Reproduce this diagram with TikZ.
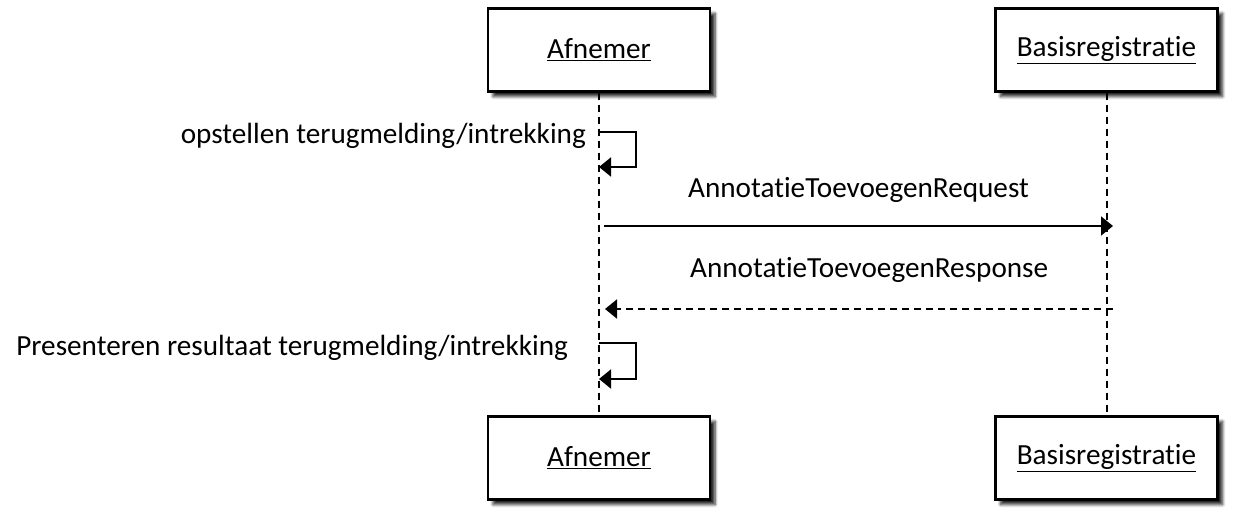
\documentclass[tikz,border=0pt]{standalone}
\usepackage{fontspec}
\setmainfont{Carlito}[Ligatures=NoCommon]
\usetikzlibrary{arrows.meta}
\usetikzlibrary{shadows.blur}
\usetikzlibrary{positioning}
\tikzset{obj/.style={draw, line width=2.4pt, fill=white, minimum width=222pt, minimum height=83pt, blur shadow={shadow xshift=5pt, shadow yshift=-5pt, shadow blur steps=6, shadow blur radius=3pt, shadow opacity=85}, font=\fontsize{29.2}{29.2}\selectfont}}
\tikzset{lbl/.style={inner sep=0pt, font=\fontsize{29.2}{29.2}\selectfont}}
\tikzset{life/.style={line width=2pt, dash pattern=on 7pt off 5pt}}
\tikzset{
msg/.style={line width=2pt, -{Triangle[length=12pt,width=19pt]}}, reply/.style={msg, dash pattern=on 7pt off 5pt}
}

\begin{document}
\begin{tikzpicture}[x=1pt,y=-1pt]
    \useasboundingbox (0,0) rectangle (1234,516);
    \node[obj] (afnTop) at (599,50) {\underline{Afnemer}};
    \node[obj] (basTop) at (1106.5,50) {\underline{Basisregistratie}};
    \node[obj] (afnBot) at (599,458) {\underline{Afnemer}};
    \node[obj] (basBot) at (1106.5,458) {\underline{Basisregistratie}};
    \draw[life] (afnTop) -- (afnBot);
    \draw[life] (basTop) -- (basBot);
    % zelf-berichten
    \coordinate (s1) at (599,132);
    \coordinate (s1e) at (599,167);
    \draw[msg] (s1) -- (636,132) |- (s1e);
    \node[lbl, anchor=east] (l1) at (586,136) {opstellen terugmelding/intrekking};
    \coordinate (s2) at (599,343);
    \coordinate (s2e) at (599,379);
    \draw[msg] (s2) -- (636,343) |- (s2e);
    \node[lbl, anchor=east] (l4) at (568,348) {Presenteren resultaat terugmelding/intrekking};
    % request / response
    \coordinate (rqA) at (604,226);
    \coordinate (rqB) at (1113,226);
    \draw[msg] (rqA) -- node [lbl, above=22pt, pos=0.5] (l2) {AnnotatieToevoegenRequest} (rqB);
    \coordinate (rsA) at (1113,309);
    \coordinate (rsB) at (605,309);
    \draw[reply] (rsA) -- node [lbl, above=25pt, pos=0.48] (l3) {AnnotatieToevoegenResponse} (rsB);
  \end{tikzpicture}
\end{document}
